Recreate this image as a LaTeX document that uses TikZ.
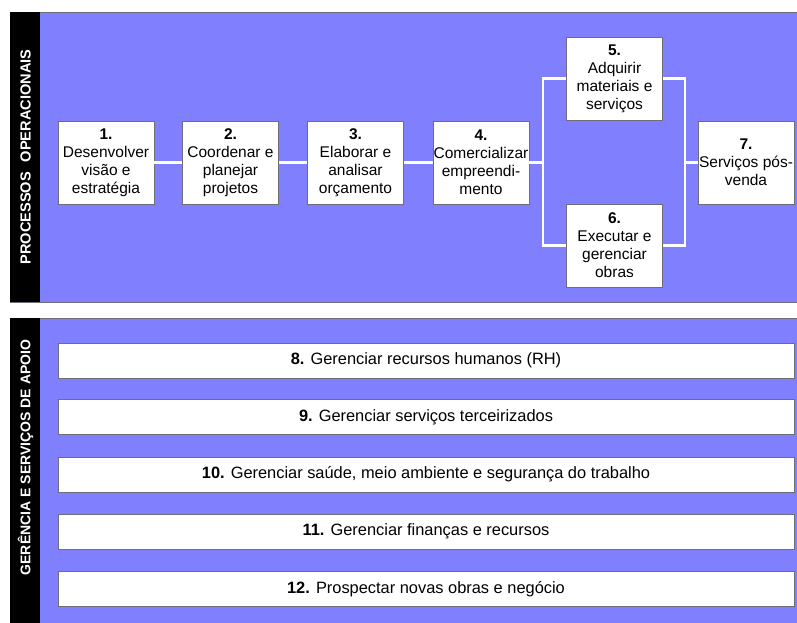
\documentclass[tikz,border=0pt]{standalone}
\usepackage{fontspec}
\setmainfont{Liberation Sans}
\definecolor{panelblue}{RGB}{128,128,255}
\definecolor{edgegray}{RGB}{110,110,120}
\tikzset{
  x=1pt, y=-1pt,
  panel/.style={draw=edgegray, line width=0.8pt, fill=panelblue},
  sidebar/.style={fill=black},
  sidelabel/.style={text=white, font=\fontsize{14}{16}\selectfont\bfseries, rotate=90, inner sep=0pt},
  procbox/.style={draw=edgegray, line width=0.8pt, fill=white, minimum width=96pt, minimum height=83pt,
    inner sep=0pt, align=center, font=\fontsize{15.5}{18}\selectfont},
  supbox/.style={draw=edgegray, line width=0.8pt, fill=white, minimum width=736pt, minimum height=35pt,
    inner sep=0pt, font=\fontsize{16.4}{18}\selectfont},
  flow/.style={draw=white, line width=2.5pt}
}
\begin{document}
\begin{tikzpicture}
\useasboundingbox (0,0) rectangle (797,623);

% upper panel: operational processes
\path[panel] (10,12) rectangle (810,302);
\path[sidebar] (10.4,12.4) rectangle (40,301.6);
\node[sidelabel, font=\fontsize{14.6}{16}\selectfont\bfseries] (lblop) at (25.5,157)
  {PROCESSOS\hspace{10pt}OPERACIONAIS};

% lower panel: management and support
\path[panel] (10,318) rectangle (810,640);
\path[sidebar] (10.4,318.4) rectangle (40,640);
\node[sidelabel] (lblsup) at (25.5,457.5) {GERÊNCIA E SERVIÇOS DE APOIO};

% junction points of the parallel branch
\coordinate (split) at (543,162.5);
\coordinate (merge) at (685,162.5);

\node[procbox] (b1) at (106,162.5) {\textbf{1.}\\Desenvolver\\visão e\\estratégia};
\node[procbox] (b2) at (230.5,162.5) {\textbf{2.}\\Coordenar e\\planejar\\projetos};
\node[procbox] (b3) at (355.5,162.5) {\textbf{3.}\\Elaborar e\\analisar\\orçamento};
\node[procbox] (b4) at (481,162.5) {\textbf{4.}\\Comercializar\\empreendi-\\mento};
\node[procbox] (b5) at (614.5,78.5) {\textbf{5.}\\Adquirir\\materiais e\\serviços};
\node[procbox] (b6) at (614.5,245.5) {\textbf{6.}\\Executar e\\gerenciar\\obras};
\node[procbox] (b7) at (746,162.5) {\textbf{7.}\\Serviços pós-\\venda};

\draw[flow] (b1) -- (b2);
\draw[flow] (b2) -- (b3);
\draw[flow] (b3) -- (b4);
\draw[flow] (b4.east) -- (split);
\draw[flow] (split) |- (b5.west);
\draw[flow] (split) |- (b6.west);
\draw[flow] (b5.east) -| (merge);
\draw[flow] (b6.east) -| (merge);
\draw[flow] (merge) -- (b7.west);

% support processes
\node[supbox] (s8) at (426,360.5) {\textbf{8.} Gerenciar recursos humanos (RH)};
\node[supbox] (s9) at (426,417) {\textbf{9.} Gerenciar serviços terceirizados};
\node[supbox] (s10) at (426,474.5) {\textbf{10.} Gerenciar saúde, meio ambiente e segurança do trabalho};
\node[supbox] (s11) at (426,531.5) {\textbf{11.} Gerenciar finanças e recursos};
\node[supbox] (s12) at (426,589) {\textbf{12.} Prospectar novas obras e negócio};
\end{tikzpicture}
\end{document}
